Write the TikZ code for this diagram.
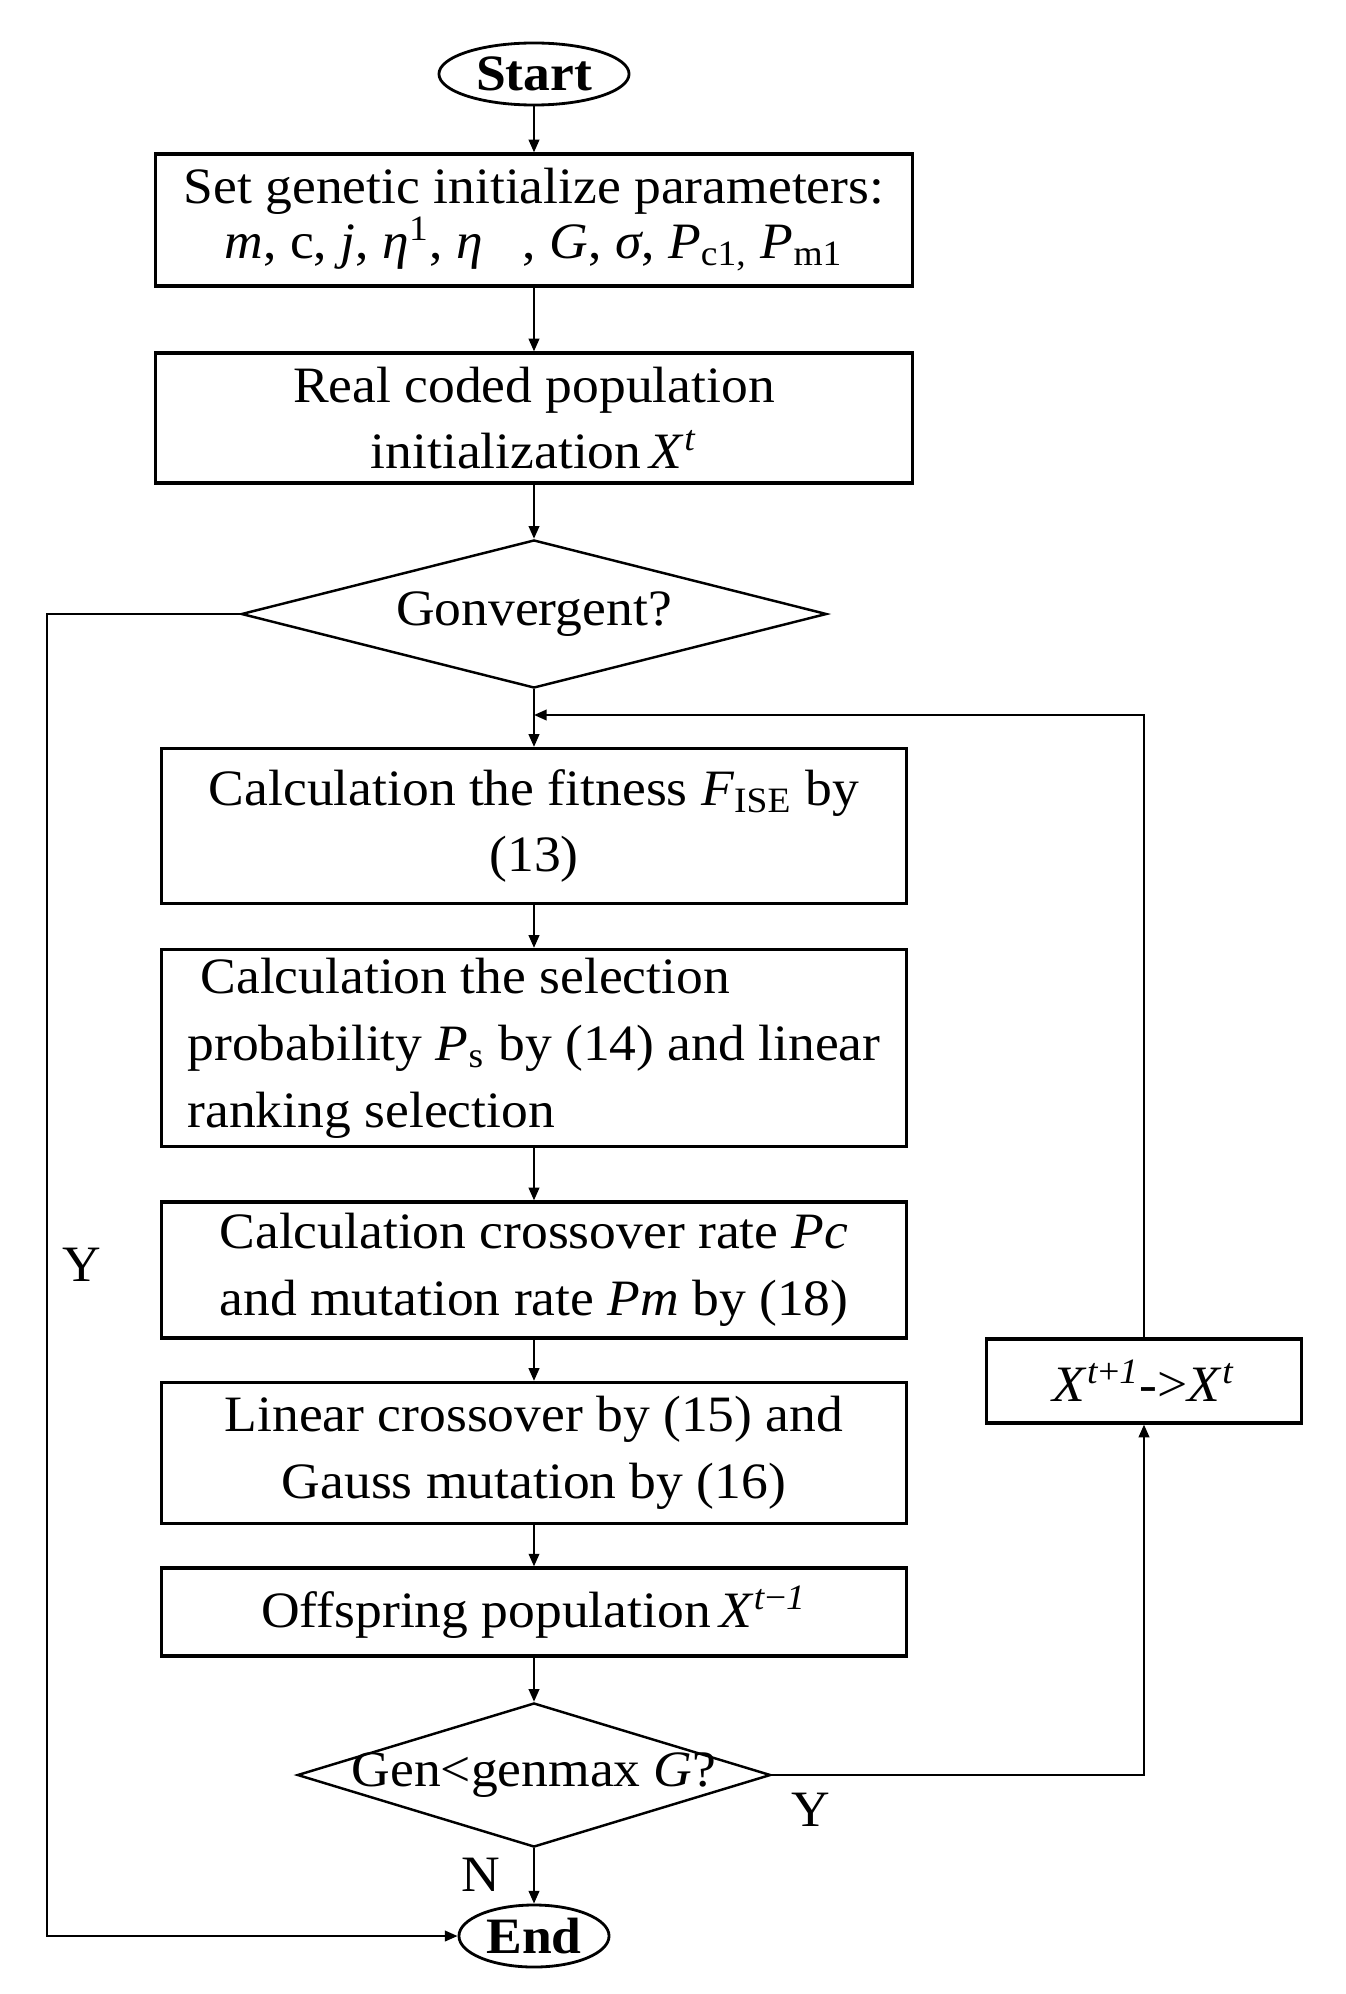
\documentclass[tikz,border=0pt]{standalone}
\usepackage{fontspec}
\setmainfont{Liberation Serif}[FakeStretch=1.05]
\usetikzlibrary{shapes.geometric,arrows.meta}
\begin{document}
\begin{tikzpicture}[x=0.01cm,y=-0.01cm,
  every node/.style={font=\fontsize{14.5}{19}\selectfont},
  box/.style={draw, line width=0.9pt, rectangle, inner sep=0pt, align=center},
  wbox/.style={box, minimum width=7.56cm},
  nbox/.style={box, minimum width=7.44cm},
  term/.style={draw, line width=0.8pt, ellipse, inner sep=0pt, font=\fontsize{14.5}{19}\selectfont\bfseries},
  decide/.style={draw, line width=0.7pt, diamond, inner sep=0pt},
  conn/.style={line width=0.6pt},
  arr/.style={conn, -{Triangle[length=3.6pt,width=3pt]}},
  lbl/.style={inner sep=0pt}
]
\useasboundingbox (0,0) rectangle (1346,1994);

\node[term, minimum width=1.9cm, minimum height=0.62cm] (start) at (534,74) {Start};

\node[wbox, minimum height=1.32cm] (b1) at (534,220) {Set genetic initialize parameters:\\[-3.5pt]
  \textit{m}, c, \textit{j}, \textit{η}\textsuperscript{1}, \textit{η}\hspace{0.4cm}, \textit{G}, \textit{σ}, \textit{P}\textsubscript{c1,} \textit{P}\textsubscript{m1}};

\node[wbox, minimum height=1.30cm] (b2) at (534,418) {Real coded population\\
  initialization\,\textit{X}\textsuperscript{\textit{t}}};

\node[decide, minimum width=5.85cm, minimum height=1.48cm, label=center:{Gonvergent?}] (d1) at (534,614) {};

\node[nbox, minimum height=1.55cm] (b3) at (534,826) {Calculation the fitness \textit{F}\textsubscript{ISE} by\\(13)};

\node[nbox, minimum height=1.97cm, align=left] (b4) at (534,1048) {\hspace{0.13cm}Calculation the selection\\
  probability \textit{P}\textsubscript{s} by (14) and linear\\
  ranking selection};

\node[nbox, minimum height=1.36cm] (b5) at (534,1270) {Calculation crossover rate \textit{Pc}\\
  and mutation rate \textit{Pm} by (18)};

\node[nbox, minimum height=1.41cm] (b6) at (534,1453) {Linear crossover by (15) and\\
  Gauss mutation by (16)};

\node[nbox, minimum height=0.88cm] (b7) at (534,1612) {Offspring population\,\textit{X}\textsuperscript{\textit{t}−\textit{1}}};

\node[decide, minimum width=4.73cm, minimum height=1.44cm, label=center:{Gen<genmax \textit{G}?}] (d2) at (534,1775) {};

\node[term, minimum width=1.5cm, minimum height=0.62cm] (end) at (534,1936) {End};

\node[box, minimum width=3.15cm, minimum height=0.84cm] (xb) at (1144,1381) {\textit{X}\textsuperscript{\textit{t}+\textit{1}}->\textit{X}\textsuperscript{\textit{t}}};

\coordinate (fb) at (534,715);
\coordinate (lc) at (47,614);

\draw[arr] (start) -- (b1);
\draw[arr] (b1) -- (b2);
\draw[arr] (b2) -- (d1);
\draw[arr] (d1) -- (b3);
\draw[arr] (xb.north) |- (fb);
\draw[arr] (b3) -- (b4);
\draw[arr] (b4) -- (b5);
\draw[arr] (b5) -- (b6);
\draw[arr] (b6) -- (b7);
\draw[arr] (b7) -- (d2);
\draw[arr] (d2) -- (end);
\draw[arr] (d2.east) -| (xb.south);
\draw[arr] (d1.west) -- (lc) |- (end.west);

\node[lbl] (ly1) at (82,1265) {Y};
\node[lbl] (ly2) at (811,1810) {Y};
\node[lbl] (ln) at (481,1875) {N};
\end{tikzpicture}
\end{document}
